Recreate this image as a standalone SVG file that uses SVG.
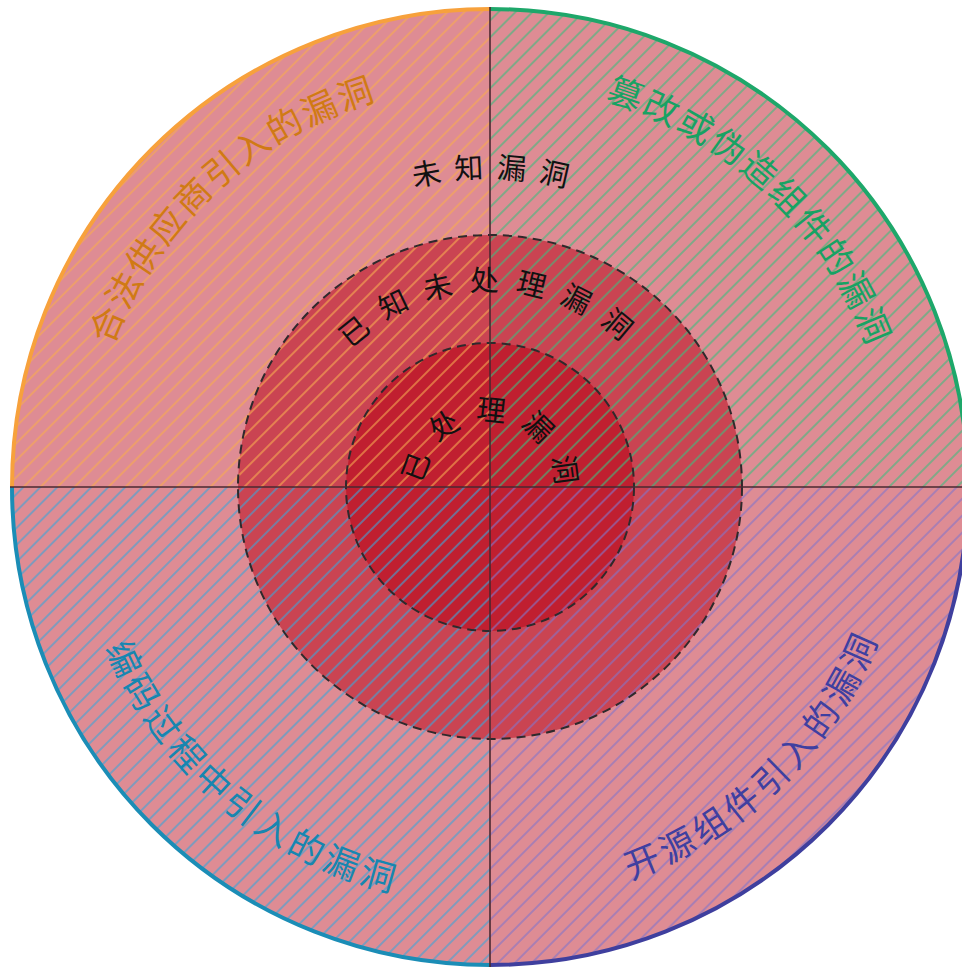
<svg xmlns="http://www.w3.org/2000/svg" width="962" height="967" viewBox="0 0 962 967">
<style>
.cjk{font-family:"Noto Sans CJK SC","Noto Sans CJK JP",sans-serif;}
.in{font-size:29px;fill:#111;}
.q{font-size:35px;}
.edge{fill:none;stroke-width:4;}
.dash{fill:none;stroke:#2e2a2c;stroke-width:2;stroke-dasharray:9 6;}
.axis{stroke:#4a2830;stroke-width:1.6;}
</style>
<defs>
<pattern id="hO" patternUnits="userSpaceOnUse" width="12" height="12" patternTransform="rotate(45)"><line x1="1" y1="0" x2="1" y2="12" stroke="#f6ab50" stroke-width="1.4" stroke-opacity="0.85"/></pattern>
<pattern id="hG" patternUnits="userSpaceOnUse" width="12" height="12" patternTransform="rotate(45)"><line x1="1" y1="0" x2="1" y2="12" stroke="#40bb7e" stroke-width="1.4" stroke-opacity="0.85"/></pattern>
<pattern id="hB" patternUnits="userSpaceOnUse" width="12" height="12" patternTransform="rotate(45)"><line x1="1" y1="0" x2="1" y2="12" stroke="#40a4d6" stroke-width="1.4" stroke-opacity="0.85"/></pattern>
<pattern id="hP" patternUnits="userSpaceOnUse" width="12" height="12" patternTransform="rotate(45)"><line x1="1" y1="0" x2="1" y2="12" stroke="#8474c8" stroke-width="1.4" stroke-opacity="0.85"/></pattern>
<path id="pTL" d="M90.0,437.9 A403,403 0 0 1 468.9,84.6"/>
<path id="pTR" d="M511.1,84.6 A403,403 0 0 1 890.0,437.9"/>
<path id="pBL" d="M78.7,555.8 A417,417 0 0 0 486.4,904.0"/>
<path id="pBR" d="M519.1,903.0 A417,417 0 0 0 904.7,530.6"/>
<path id="pTop" d="M291.4,250.3 A309,309 0 0 1 688.6,250.3"/>
<path id="pMid" d="M294,487 A196,196 0 0 1 686,487"/>
<path id="pIn" d="M424,487 A66,66 0 0 1 556,487"/>
</defs>

<g id="base">
<circle cx="490" cy="487" r="478" fill="#de8c94"/>
<circle cx="490" cy="487" r="252" fill="#ca4452"/>
<circle cx="490" cy="487" r="144" fill="#c01f30"/>
</g>

<g id="quadrant-top-left">
<path d="M490,487 L12,487 A478,478 0 0 1 490,9 Z" fill="url(#hO)"/>
<path class="edge" d="M12,487 A478,478 0 0 1 490,9" stroke="#f7a13c"/>
</g>
<g id="quadrant-top-right">
<path d="M490,487 L490,9 A478,478 0 0 1 968,487 Z" fill="url(#hG)"/>
<path class="edge" d="M490,9 A478,478 0 0 1 968,487" stroke="#1ea76a"/>
</g>
<g id="quadrant-bottom-left">
<path d="M490,487 L490,965 A478,478 0 0 1 12,487 Z" fill="url(#hB)"/>
<path class="edge" d="M490,965 A478,478 0 0 1 12,487" stroke="#1b8db6"/>
</g>
<g id="quadrant-bottom-right">
<path d="M490,487 L968,487 A478,478 0 0 1 490,965 Z" fill="url(#hP)"/>
<path class="edge" d="M968,487 A478,478 0 0 1 490,965" stroke="#3f3f9e"/>
</g>

<g id="rings">
<circle class="dash" cx="490" cy="487" r="252"/>
<circle class="dash" cx="490" cy="487" r="144"/>
</g>

<g id="axes">
<line class="axis" x1="10" y1="487" x2="962" y2="487"/>
<line class="axis" x1="490" y1="7" x2="490" y2="967"/>
</g>

<g id="label-unknown">
<text class="cjk in" letter-spacing="12.5"><textPath href="#pTop" startOffset="222" text-anchor="middle">未知漏洞</textPath></text>
</g>
<g id="label-known-unpatched">
<text class="cjk in" letter-spacing="16"><textPath href="#pMid" startOffset="310" text-anchor="middle">已知未处理漏洞</textPath></text>
</g>
<g id="label-patched">
<text class="cjk in" letter-spacing="14.5"><textPath href="#pIn" startOffset="111" text-anchor="middle">已处理漏洞</textPath></text>
</g>

<g id="label-vendor">
<text class="cjk q" fill="#d07a14" letter-spacing="2.5"><textPath href="#pTL" startOffset="282.6" text-anchor="middle">合法供应商引入的漏洞</textPath></text>
</g>
<g id="label-tampered">
<text class="cjk q" fill="#18a263" letter-spacing="2.5"><textPath href="#pTR" startOffset="282.6" text-anchor="middle">篡改或伪造组件的漏洞</textPath></text>
</g>
<g id="label-coding">
<text class="cjk q" fill="#1786b0" letter-spacing="4.4"><textPath href="#pBL" startOffset="293.3" text-anchor="middle">编码过程中引入的漏洞</textPath></text>
</g>
<g id="label-opensource">
<text class="cjk q" fill="#3f3fa0" letter-spacing="4.8"><textPath href="#pBR" startOffset="293.5" text-anchor="middle">开源组件引入的漏洞</textPath></text>
</g>
</svg>
